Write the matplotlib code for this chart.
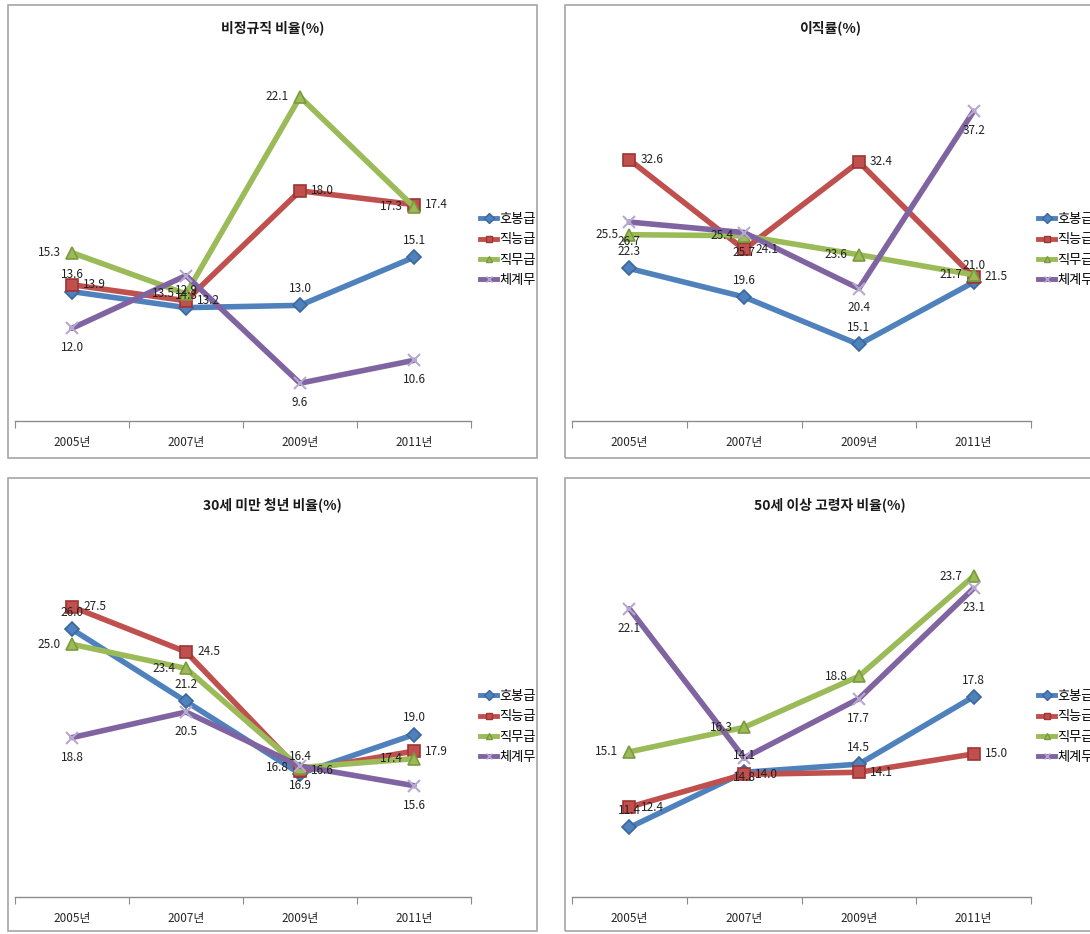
import numpy as np
import matplotlib
matplotlib.use('Agg')
import matplotlib.pyplot as plt
from matplotlib.patches import Rectangle
from matplotlib.lines import Line2D

plt.rcParams['font.family'] = ['Noto Sans CJK KR', 'DejaVu Sans']

years = ['2005년', '2007년', '2009년', '2011년']
series_names = ['호봉급', '직능급', '직무급', '체계무']

# rows: 호봉급, 직능급, 직무급, 체계무
irregular_rate = [
    [13.6, 12.9, 13.0, 15.1],
    [13.9, 13.2, 18.0, 17.4],
    [15.3, 13.5, 22.1, 17.3],
    [12.0, 14.3, 9.6, 10.6],
]
turnover_rate = [
    [22.3, 19.6, 15.1, 21.0],
    [32.6, 24.1, 32.4, 21.5],
    [25.5, 25.4, 23.6, 21.7],
    [26.7, 25.7, 20.4, 37.2],
]
youth_rate = [
    [26.0, 21.2, 16.4, 19.0],
    [27.5, 24.5, 16.6, 17.9],
    [25.0, 23.4, 16.8, 17.4],
    [18.8, 20.5, 16.9, 15.6],
]
senior_rate = [
    [11.4, 14.1, 14.5, 17.8],
    [12.4, 14.0, 14.1, 15.0],
    [15.1, 16.3, 18.8, 23.7],
    [22.1, 14.8, 17.7, 23.1],
]

titles = ['비정규직 비율(%)', '이직률(%)', '30세 미만 청년 비율(%)', '50세 이상 고령자 비율(%)']

colors = ['#4F81BD', '#C0504D', '#9BBB59', '#8064A2']
edge_colors = ['#3A679E', '#9E3532', '#7A9A3E', '#B7A8CF']
markers = ['D', 's', '^', 'x']
msizes = [7, 9, 9, 9]
# where each series puts its value label
label_pos = ['above', 'right', 'left', 'below']
offsets = {'above': ((0, 12), 'center'), 'below': ((0, -14), 'center'),
           'right': ((8, 0), 'left'), 'left': ((-8, 0), 'right')}

W, H = 1090, 934
fig = plt.figure(figsize=(W / 100, H / 100), dpi=100)


def px_axes(x0, y0, x1, y1):
    return fig.add_axes([x0 / W, 1 - y1 / H, (x1 - x0) / W, (y1 - y0) / H])


# (chart box, title y, plot area, y limits, legend anchor) in pixels
layout = [
    ((8, 5, 537, 458), 28, (15, 50, 471, 421), (7.95, 24.15), (480, 250)),
    ((565, 5, 1095, 458), 28, (572, 50, 1031, 421), (7.85, 43.0), (1038, 250)),
    ((8, 478, 537, 931), 505, (15, 527, 471, 897), (8.2, 32.8), (480, 727)),
    ((565, 478, 1095, 931), 505, (572, 527, 1031, 897), (8.0, 26.1), (1038, 727)),
]
datasets = [irregular_rate, turnover_rate, youth_rate, senior_rate]

x = np.arange(len(years))

for title, data, (box, ty, area, ylim, leg) in zip(titles, datasets, layout):
    bx0, by0, bx1, by1 = box
    fig.patches.append(Rectangle((bx0 / W, 1 - by1 / H), (bx1 - bx0) / W, (by1 - by0) / H,
                                 transform=fig.transFigure, fill=False,
                                 edgecolor='#A6A6A6', linewidth=1.2))
    fig.text((bx0 + bx1) / 2 / W, 1 - ty / H, title, ha='center', va='center',
             fontsize=10, fontweight='bold', color='#1A1A1A')

    ax = px_axes(*area)
    handles = []
    for k, vals in enumerate(data):
        ax.plot(x, vals, color=colors[k], linewidth=4, marker=markers[k],
                markersize=msizes[k], markerfacecolor=colors[k],
                markeredgecolor=edge_colors[k], markeredgewidth=1.2 if k < 3 else 1.5,
                solid_capstyle='round', zorder=3 + k * 0.1)
        handles.append(Line2D([], [], color=colors[k], linewidth=3.5, marker=markers[k],
                              markersize=5, markerfacecolor=colors[k],
                              markeredgecolor=edge_colors[k]))
        off, ha = offsets[label_pos[k]]
        for i, v in enumerate(vals):
            ax.annotate(f'{v:.1f}', (x[i], v), xytext=off, textcoords='offset points',
                        ha=ha, va='center', fontsize=8.5, color='#222222', zorder=10)

    ax.set_xlim(-0.5, len(years) - 0.5)
    ax.set_ylim(*ylim)
    for s in ['top', 'left', 'right']:
        ax.spines[s].set_visible(False)
    ax.spines['bottom'].set_color('#8C8C8C')
    ax.spines['bottom'].set_linewidth(1.0)
    ax.set_yticks([])
    ax.set_xticks(np.arange(len(years) + 1) - 0.5)
    ax.set_xticklabels([])
    ax.tick_params(axis='x', which='major', length=5, color='#8C8C8C', direction='out')
    ax.set_xticks(x, minor=True)
    ax.set_xticklabels(years, minor=True)
    ax.tick_params(axis='x', which='minor', length=0, pad=11, labelsize=8.5,
                   labelcolor='#262626')
    ax.patch.set_alpha(0)

    ax.legend(handles, series_names, loc='center left',
              bbox_to_anchor=(leg[0] / W, 1 - leg[1] / H), bbox_transform=fig.transFigure,
              frameon=False, fontsize=9.5, handlelength=1.3, handletextpad=0.15,
              labelspacing=0.55, borderpad=0, borderaxespad=0)

fig.savefig('out.png', dpi=100)
